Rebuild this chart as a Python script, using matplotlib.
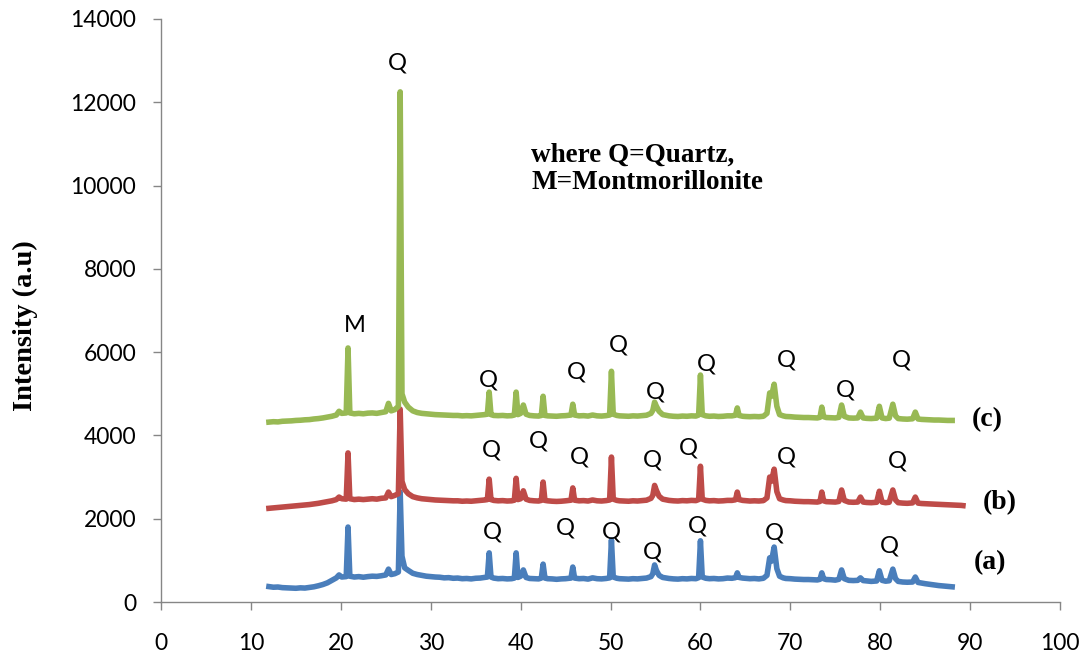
import matplotlib
matplotlib.use('Agg')
import matplotlib.pyplot as plt

# 2-theta grid shared by the three patterns
two_theta = [
    12.0, 12.5, 13.0, 13.5, 14.0, 14.5, 15.0, 15.5, 16.0, 16.5, 17.0, 17.5, 18.0, 18.5, 19.0, 19.5, 19.8, 20.1, 20.6,
    20.8, 21.0, 21.5, 22.0, 22.5, 23.0, 23.5, 24.0, 24.5, 25.0, 25.3, 25.6, 26.0, 26.4,
    26.6, 26.8, 27.1, 27.5, 28.0, 28.5, 29.0, 29.5, 30.0, 30.5, 31.0, 31.5, 32.0, 32.5, 33.0, 33.5, 34.0, 34.5, 35.0, 35.5, 36.0, 36.3,
    36.5, 36.7, 37.0, 37.5, 38.0, 38.5, 39.0, 39.3, 39.5, 39.7, 40.0, 40.3, 40.6, 41.0, 41.5, 42.0, 42.3, 42.5, 42.7, 43.0, 43.5, 44.0, 44.5, 45.0, 45.6,
    45.8, 46.0, 46.5, 47.0, 47.5, 48.0, 48.5, 49.0, 49.5, 49.9, 50.1, 50.3, 50.7, 51.0, 51.5, 52.0, 52.5, 53.0, 53.5, 54.0, 54.5, 54.7,
    54.9, 55.1, 55.4, 55.8, 56.5, 57.0, 57.5, 58.0, 58.5, 59.0, 59.5, 59.8, 60.0, 60.2, 60.6, 61.0, 61.5, 62.0, 62.5, 63.0, 63.5, 63.9,
    64.1, 64.3, 64.7, 65.0, 65.5, 66.0, 66.5, 67.0, 67.4, 67.7, 67.9, 68.2, 68.5, 68.8, 69.2, 69.5, 70.0, 70.5, 71.0, 71.5, 72.0, 72.5, 73.0, 73.3,
    73.5, 73.7, 74.0, 74.5, 75.0, 75.4, 75.7, 76.0, 76.5, 77.0, 77.5, 77.8, 78.1, 78.5, 79.0, 79.6, 79.9, 80.2, 80.6, 81.0, 81.4, 81.7,
    82.0, 82.5, 83.0, 83.6, 83.9, 84.2, 84.6, 85.0, 85.5, 86.0, 86.5, 87.0, 87.5, 88.0,
]

int_a = [
    370, 355, 360, 345, 340, 335, 330, 340, 335, 350, 365, 390, 420, 460, 520, 580, 650, 600, 610,
    1800, 620, 600, 610, 595, 610, 620, 615, 630, 650, 790, 660, 680, 720,
    2640, 1100, 820, 760, 690, 660, 640, 620, 610, 600, 595, 580, 585, 570, 575, 560, 565, 555, 570, 575, 590, 600,
    1180, 600, 575, 560, 565, 555, 560, 575, 1180, 590, 620, 770, 590, 565, 560, 555, 575, 910, 575, 560, 555, 545, 555, 560, 575,
    840, 575, 560, 565, 550, 580, 560, 555, 565, 580, 1490, 600, 570, 560, 555, 550, 560, 555, 565, 575, 610, 680,
    890, 760, 640, 590, 565, 555, 550, 560, 555, 565, 560, 585, 1470, 600, 570, 560, 565, 555, 560, 575, 570, 585,
    700, 590, 575, 570, 560, 565, 555, 570, 640, 1060, 980, 1320, 800, 620, 580, 565, 560, 550, 545, 540, 540, 535, 530, 545,
    700, 560, 540, 535, 525, 545, 770, 560, 520, 515, 520, 580, 515, 505, 495, 505, 750, 520, 500, 510, 790, 560,
    495, 480, 475, 480, 600, 470, 455, 440, 425, 410, 395, 385, 375, 365,
]

int_b = [
    2250, 2260, 2270, 2280, 2290, 2300, 2310, 2320, 2330, 2340, 2355, 2370, 2390, 2410, 2430, 2460, 2520, 2480, 2470,
    3580, 2480, 2460, 2470, 2460, 2470, 2480, 2470, 2490, 2500, 2640, 2530, 2560, 2600,
    4630, 2900, 2700, 2600, 2530, 2500, 2480, 2470, 2460, 2450, 2445, 2440, 2435, 2430, 2430, 2420, 2425, 2420, 2430, 2440, 2450, 2460,
    2950, 2460, 2440, 2430, 2435, 2425, 2430, 2445, 2970, 2460, 2480, 2670, 2470, 2440, 2430, 2425, 2440, 2880, 2440, 2430, 2420, 2415, 2420, 2430, 2445,
    2740, 2445, 2430, 2435, 2425, 2450, 2430, 2425, 2435, 2450, 3480, 2470, 2440, 2430, 2425, 2420, 2430, 2425, 2435, 2445, 2490, 2560,
    2800, 2680, 2540, 2470, 2440, 2430, 2425, 2435, 2430, 2440, 2435, 2460, 3260, 2470, 2440, 2430, 2435, 2425, 2430, 2440, 2440, 2455,
    2640, 2460, 2440, 2435, 2425, 2430, 2425, 2435, 2500, 3000, 2900, 3190, 2650, 2480, 2450, 2435, 2430, 2420, 2415, 2410, 2410, 2405, 2400, 2415,
    2640, 2430, 2410, 2405, 2400, 2415, 2690, 2440, 2400, 2395, 2400, 2520, 2400, 2390, 2385, 2395, 2660, 2400, 2385, 2395, 2690, 2450,
    2385, 2375, 2370, 2380, 2520, 2375, 2365, 2360, 2355, 2350, 2345, 2340, 2335, 2330,
]
# pattern (b) runs a little further
tail_b_x = [88.5, 89.0, 89.2]
tail_b_y = [2325, 2320, 2315]

int_c = [
    4320, 4330, 4325, 4340, 4345, 4350, 4360, 4365, 4375, 4380, 4395, 4405, 4420, 4440, 4460, 4490, 4580, 4530, 4540,
    6100, 4540, 4520, 4530, 4520, 4535, 4540, 4530, 4550, 4570, 4770, 4590, 4620, 4700,
    12250, 5000, 4800, 4680, 4590, 4550, 4530, 4520, 4510, 4500, 4495, 4490, 4485, 4480, 4480, 4470, 4475, 4470, 4480, 4490, 4500, 4510,
    5040, 4500, 4480, 4475, 4480, 4470, 4475, 4490, 5040, 4500, 4530, 4730, 4510, 4480, 4470, 4465, 4480, 4940, 4480, 4470, 4465, 4460, 4470, 4475, 4490,
    4750, 4490, 4470, 4475, 4465, 4490, 4470, 4465, 4475, 4490, 5540, 4510, 4480, 4470, 4465, 4460, 4470, 4465, 4475, 4485, 4530, 4600,
    4800, 4700, 4580, 4500, 4470, 4460, 4455, 4465, 4460, 4470, 4465, 4490, 5450, 4500, 4470, 4460, 4465, 4455, 4460, 4470, 4470, 4485,
    4660, 4480, 4460, 4455, 4450, 4455, 4450, 4460, 4530, 5020, 4940, 5230, 4700, 4500, 4470, 4455, 4450, 4440, 4435, 4430, 4430, 4425, 4420, 4435,
    4680, 4450, 4430, 4425, 4420, 4435, 4730, 4460, 4420, 4415, 4420, 4560, 4420, 4410, 4405, 4415, 4700, 4420, 4405, 4415, 4750, 4470,
    4405, 4395, 4390, 4400, 4560, 4395, 4385, 4380, 4375, 4370, 4370, 4365, 4360, 4360,
]

# peak markers (2-theta, height) for each pattern
q_c = [(26.3, 12940), (36.4, 5330), (46.2, 5520), (50.9, 6170), (55.0, 5040),
       (60.7, 5710), (69.6, 5810), (76.1, 5090), (82.3, 5810)]
m_c = (21.5, 6650)
q_b = [(36.7, 3650), (42.0, 3860), (46.5, 3480), (54.6, 3410), (58.7, 3700),
       (69.6, 3480), (81.9, 3380)]
q_a = [(36.9, 1680), (45.0, 1780), (50.1, 1680), (54.7, 1200), (59.7, 1820),
       (68.2, 1660), (81.0, 1340)]

sample_labels = ['(a)', '(b)', '(c)']
sample_label_pos = [(92.2, 940), (93.3, 2380), (91.9, 4370)]

assert len(two_theta) == len(int_a) == len(int_b) == len(int_c)

blue = '#4a7ebb'
red = '#be4b48'
green = '#98b954'
grey = '#868686'

fig = plt.figure(figsize=(10.83, 6.57), dpi=100)
ax = fig.add_axes([0.1487, 0.0837, 0.8301, 0.8874])

ax.plot(two_theta, int_a, color=blue, lw=4.0, solid_joinstyle='round')
ax.plot(two_theta + tail_b_x, int_b + tail_b_y, color=red, lw=4.0, solid_joinstyle='round')
ax.plot(two_theta, int_c, color=green, lw=4.0, solid_joinstyle='round')

ax.set_xlim(0, 100)
ax.set_ylim(0, 14000)
ax.set_xticks(range(0, 101, 10))
ax.set_yticks(range(0, 14001, 2000))

for s in ['top', 'right']:
    ax.spines[s].set_visible(False)
for s in ['left', 'bottom']:
    ax.spines[s].set_color(grey)
    ax.spines[s].set_linewidth(1.0)
ax.tick_params(axis='both', colors=grey, length=6, width=1.0, direction='out',
               labelcolor='black', labelsize=16.5)
ax.tick_params(axis='x', pad=16)
ax.tick_params(axis='y', pad=12)
for lab in ax.get_xticklabels() + ax.get_yticklabels():
    lab.set_family('Lato')

qfont = dict(family='Lato', fontsize=17, ha='center', va='center', color='black')
for x, y in q_c + q_b + q_a:
    ax.text(x, y, 'Q', **qfont)
ax.text(m_c[0], m_c[1], 'M', **qfont)

serif = dict(family='Liberation Serif', fontweight='bold', color='black')
for lab, (x, y) in zip(sample_labels, sample_label_pos):
    ax.text(x, y, lab, fontsize=20, ha='center', va='center', **serif)

ax.text(41.2, 10400, 'where Q=Quartz,\nM=Montmorillonite', fontsize=19.5,
        ha='left', va='center', linespacing=1.15, **serif)

fig.text(25 / 1083, 1 - 326 / 657, 'Intensity (a.u)', rotation=90, fontsize=20.5,
         ha='center', va='center', **serif)

plt.savefig('out.png', dpi=100)
plt.close()
